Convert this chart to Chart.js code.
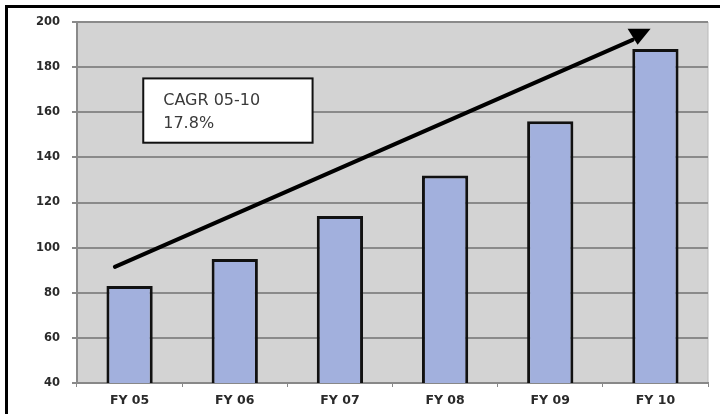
<!DOCTYPE html>
<html>
<head>
<meta charset="utf-8">
<script src="https://cdn.jsdelivr.net/npm/chart.js@4.4.1/dist/chart.umd.min.js"></script>
<style>
  html, body { margin: 0; padding: 0; background: #fff; overflow: hidden; }
  #wrap { position: relative; width: 720px; height: 414px; overflow: hidden; }
  #frame { position: absolute; left: 5px; top: 5px; width: 715px; height: 409px;
           border-top: 3px solid #000; border-left: 3px solid #000; box-sizing: border-box; }
  canvas { position: absolute; left: 0; top: 0; }
</style>
</head>
<body>
<div id="wrap">
  <div id="frame"></div>
  <canvas id="chart" width="720" height="414"></canvas>
</div>
<script>
// chart data
const categories = ['FY 05', 'FY 06', 'FY 07', 'FY 08', 'FY 09', 'FY 10'];
const values = [83, 95, 114, 132, 156, 188];
const yTicks = [40, 60, 80, 100, 120, 140, 160, 180, 200];

// growth arrow, in category index / value units
const arrowFrom = [-0.14, 91.5];
const arrowTo = [4.84, 193];

// CAGR note box (category index / value units) and its lines
const noteBox = { x0: 0.13, x1: 1.74, yTop: 175, yBottom: 146.5 };
const noteLines = ['CAGR 05-10', '17.8%'];

const plotBg = {
    id: 'plotBg',
    beforeDraw(chart) {
        const { ctx, chartArea: a } = chart;
        ctx.save();
        ctx.fillStyle = '#d3d3d3';
        ctx.fillRect(a.left, a.top, a.right - a.left, a.bottom - a.top);
        ctx.strokeStyle = '#b8b8b8';
        ctx.lineWidth = 1;
        ctx.beginPath();
        ctx.moveTo(a.right, a.top);
        ctx.lineTo(a.right, a.bottom);
        ctx.stroke();
        ctx.restore();
    }
};

const extras = {
    id: 'extras',
    afterDatasetsDraw(chart) {
        const ctx = chart.ctx;
        const x = chart.scales.x, y = chart.scales.y;

        // arrow
        const x1 = x.getPixelForValue(arrowFrom[0]), y1 = y.getPixelForValue(arrowFrom[1]);
        const x2 = x.getPixelForValue(arrowTo[0]), y2 = y.getPixelForValue(arrowTo[1]);
        ctx.save();
        ctx.strokeStyle = '#000';
        ctx.lineWidth = 4;
        ctx.lineCap = 'round';
        ctx.beginPath();
        ctx.moveTo(x1, y1);
        ctx.lineTo(x2 - 6, y2 + 2);
        ctx.stroke();
        ctx.fillStyle = '#000';
        ctx.beginPath();
        ctx.moveTo(x2 - 11, y2 - 9);
        ctx.lineTo(x2 + 12, y2 - 9);
        ctx.lineTo(x2 - 1, y2 + 7);
        ctx.closePath();
        ctx.fill();

        // note box
        const bl = x.getPixelForValue(noteBox.x0), br = x.getPixelForValue(noteBox.x1);
        const bt = y.getPixelForValue(noteBox.yTop), bb = y.getPixelForValue(noteBox.yBottom);
        ctx.fillStyle = '#fff';
        ctx.fillRect(bl, bt, br - bl, bb - bt);
        ctx.strokeStyle = '#111';
        ctx.lineWidth = 2;
        ctx.strokeRect(bl, bt, br - bl, bb - bt);
        ctx.fillStyle = '#3a3a3a';
        ctx.font = '16px "DejaVu Sans"';
        ctx.textBaseline = 'alphabetic';
        noteLines.forEach((t, i) => ctx.fillText(t, bl + 20, bt + 27 + i * 23));
        ctx.restore();
    }
};

new Chart(document.getElementById('chart'), {
    type: 'bar',
    data: {
        labels: categories,
        datasets: [{
            data: values,
            backgroundColor: '#a2b0dd',
            borderColor: '#111',
            borderWidth: 3,
            borderSkipped: false,
            categoryPercentage: 1,
            barPercentage: 0.44
        }]
    },
    options: {
        responsive: false,
        animation: false,
        layout: { padding: { left: 0, right: 12, top: 22, bottom: 0 } },
        plugins: { legend: { display: false }, tooltip: { enabled: false } },
        scales: {
            x: {
                grid: { drawOnChartArea: false, color: '#888', tickLength: 4, lineWidth: 1 },
                border: { color: '#888', width: 2 },
                ticks: { color: '#2a2a2a', padding: 6, font: { family: 'DejaVu Sans', size: 12.5, weight: 'bold' } },
                afterFit(s) { s.height = 31; }
            },
            y: {
                min: 40,
                max: 200,
                afterBuildTicks(s) { s.ticks = yTicks.map(v => ({ value: v })); },
                grid: { color: '#8a8a8a', lineWidth: 2, tickLength: 5 },
                border: { color: '#8a8a8a', width: 2 },
                ticks: { color: '#2a2a2a', padding: 12, font: { family: 'DejaVu Sans', size: 11.5, weight: 'bold' } },
                afterFit(s) { s.width = 77; }
            }
        }
    },
    plugins: [plotBg, extras]
});
</script>
</body>
</html>
